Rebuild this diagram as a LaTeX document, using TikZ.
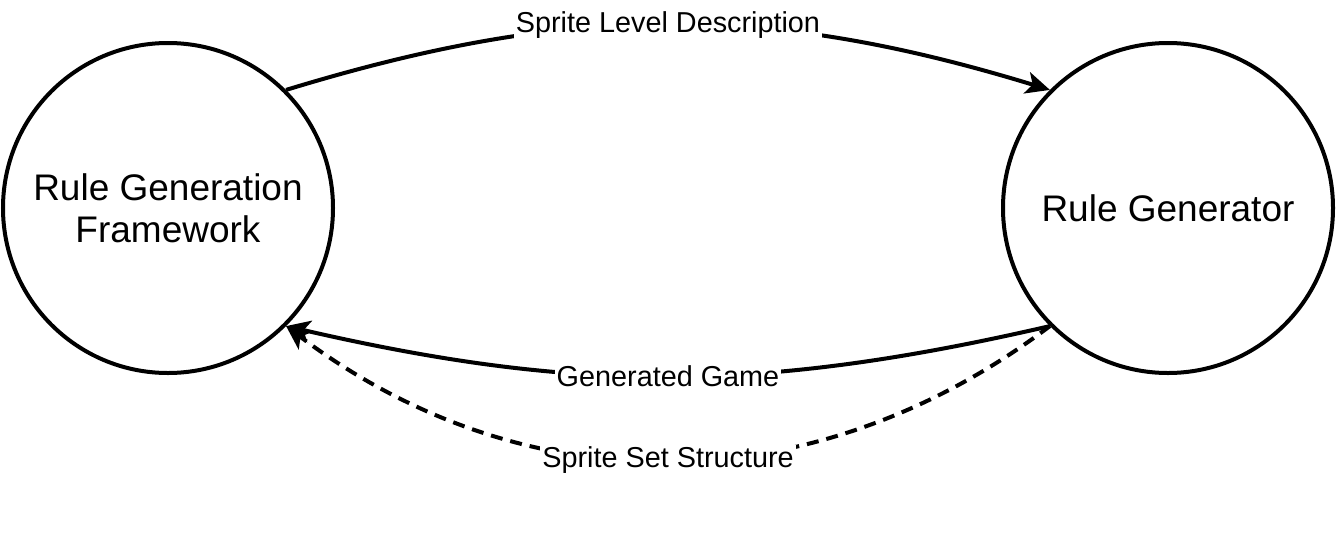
\documentclass[tikz,border=0pt]{standalone}
\usepackage{fontspec}
\setmainfont{Liberation Sans}
\usetikzlibrary{arrows.meta,positioning}

\begin{document}
\begin{tikzpicture}[x=0.5pt, y=-0.5pt,
  state/.style={draw, circle, line width=2pt, minimum size=165pt, align=center, font=\fontsize{18.5}{21}\selectfont},
  flow/.style={line width=2pt, -{Stealth[length=12pt,width=11pt,inset=3pt]}},
  lbl/.style={fill=white, inner sep=1pt, font=\fontsize{14.4}{16}\selectfont}]
  \useasboundingbox (0,0) rectangle (1338,536);

  % States
  \node[state] (rgf) at (168,208) {Rule Generation\\Framework};
  \node[state] (rg) at (1168,208) {Rule Generator};

  % Arrows
  \draw[flow] (rgf.45) to[bend left=17] node[lbl] {Sprite Level Description} (rg.135);
  \draw[flow] (rg.225) to[bend left=13] node[lbl] {Generated Game} (rgf.315);
  \draw[flow, dash pattern=on 6pt off 4pt] (rg.225) to[bend left=37] node[lbl] {Sprite Set Structure} (rgf.315);

\end{tikzpicture}
\end{document}
